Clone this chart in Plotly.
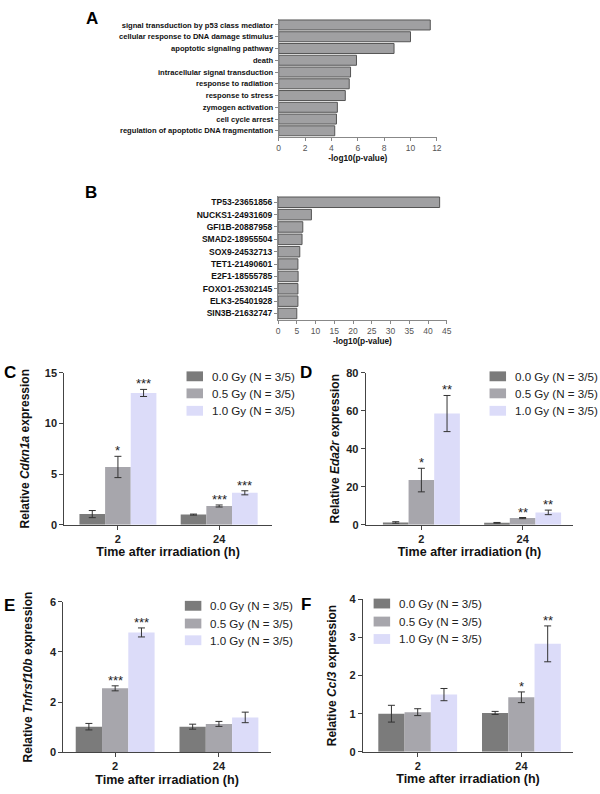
import plotly.graph_objects as go

W, H = 600, 794

# ---------------- data ----------------
go_terms = ["signal transduction by p53 class mediator",
            "cellular response to DNA damage stimulus",
            "apoptotic signaling pathway",
            "death",
            "intracellular signal transduction",
            "response to radiation",
            "response to stress",
            "zymogen activation",
            "cell cycle arrest",
            "regulation of apoptotic DNA fragmentation"]
go_logp = [11.5, 10.0, 8.75, 5.9, 5.45, 5.35, 5.05, 4.45, 4.38, 4.25]

tf_terms = ["TP53-23651856", "NUCKS1-24931609", "GFI1B-20887958", "SMAD2-18955504",
            "SOX9-24532713", "TET1-21490601", "E2F1-18555785", "FOXO1-25302145",
            "ELK3-25401928", "SIN3B-21632747"]
tf_logp = [43.1, 8.9, 6.6, 6.4, 5.8, 5.3, 5.35, 5.3, 5.3, 5.0]

times = ["2", "24"]
doses = ["0.0 Gy (N = 3/5)", "0.5 Gy (N = 3/5)", "1.0 Gy (N = 3/5)"]

cdkn1a_mean = [[1.05, 1.0], [5.7, 1.85], [13.0, 3.15]]
cdkn1a_err = [[0.35, 0.05], [1.05, 0.1], [0.35, 0.2]]
cdkn1a_sig = [["", ""], ["*", "***"], ["***", "***"]]

eda2r_mean = [[1.2, 1.0], [23.5, 3.5], [58.5, 6.5]]
eda2r_err = [[0.4, 0.2], [6.2, 0.3], [9.5, 1.2]]
eda2r_sig = [["", ""], ["*", "**"], ["**", "**"]]

tnfrsf10b_mean = [[1.02, 1.02], [2.55, 1.13], [4.78, 1.39]]
tnfrsf10b_err = [[0.13, 0.1], [0.1, 0.1], [0.18, 0.21]]
tnfrsf10b_sig = [["", ""], ["***", ""], ["***", ""]]

ccl3_mean = [[1.0, 1.02], [1.04, 1.43], [1.5, 2.83]]
ccl3_err = [[0.22, 0.04], [0.09, 0.14], [0.16, 0.47]]
ccl3_sig = [["", ""], ["", "*"], ["", "**"]]

# ---------------- styles ----------------
FONT = "Liberation Sans, Arial, sans-serif"
dose_colors = ["#7b7b7b", "#a7a6ac", "#dcdcf9"]
axis_col = "#444444"


def fx(px):
    return px / W


def fy(py):
    return 1 - py / H


fig = go.Figure()

# ---------------- A ----------------
fig.add_trace(go.Bar(x=go_logp, y=go_terms, orientation="h", width=0.85,
                     marker=dict(color="#a0a0a2", line=dict(color="#555555", width=1)),
                     showlegend=False, xaxis="x", yaxis="y"))
# ---------------- B ----------------
fig.add_trace(go.Bar(x=tf_logp, y=tf_terms, orientation="h", width=0.85,
                     marker=dict(color="#a0a0a2", line=dict(color="#555555", width=1)),
                     showlegend=False, xaxis="x2", yaxis="y2"))

panels = [
    # axis idx, means, errs, sigs, gene, x-domain px, y-domain px, y range, dtick, x range,
    # y-title standoff, legend (square left px, text left px, row centres px)
    (3, cdkn1a_mean, cdkn1a_err, cdkn1a_sig, "Cdkn1a", (63, 273), (372.3, 526.7), [0, 15], 5,
     (-0.53, 1.52), 12, (186.7, 210, [376, 393.3, 411])),
    (4, eda2r_mean, eda2r_err, eda2r_sig, "Eda2r", (368, 578), (372.3, 526.7), [0, 80], 20,
     (-0.55, 1.50), 4, (493.3, 516.7, [376, 393.3, 411])),
    (5, tnfrsf10b_mean, tnfrsf10b_err, tnfrsf10b_sig, "Tnfrsf10b", (62, 272), (605, 757.7), [0, 6], 2,
     (-0.5, 1.5), 14, (185, 208.3, [609, 627, 644])),
    (6, ccl3_mean, ccl3_err, ccl3_sig, "Ccl3", (365, 578), (602.3, 757.3), [0, 4], 1,
     (-0.53, 1.5), 10, (376, 400, [606.7, 625, 642.7])),
]

annotations = []
shapes = []
layout_axes = {}
offsets = [-0.2533, 0.0, 0.2533]

for idx, means, errs, sigs, gene, xd, yd, yr, dt, xr, sto, lg in panels:
    xa, ya = f"x{idx}", f"y{idx}"
    for k in range(3):
        fig.add_trace(go.Bar(
            x=times, y=means[k], name=doses[k],
            marker=dict(color=dose_colors[k], line=dict(width=0)),
            error_y=dict(type="data", array=errs[k], visible=True,
                         color="#333333", thickness=1, width=3.5),
            xaxis=xa, yaxis=ya, showlegend=False))
        for j in range(2):
            if sigs[k][j]:
                annotations.append(dict(
                    x=j + offsets[k], y=means[k][j] + errs[k][j], xref=xa, yref=ya,
                    text=sigs[k][j], showarrow=False, xanchor="center", yanchor="bottom",
                    yshift=-4, font=dict(family=FONT, size=13, color="#222222")))
        # legend entry (square swatch + label)
        sq_left, txt_left, rows = lg
        shapes.append(dict(type="rect", xref="paper", yref="paper",
                           x0=fx(sq_left), x1=fx(sq_left + 16.7),
                           y0=fy(rows[k] + 5), y1=fy(rows[k] - 5),
                           fillcolor=dose_colors[k], line=dict(width=0)))
        annotations.append(dict(x=fx(txt_left), y=fy(rows[k]), xref="paper", yref="paper",
                                xanchor="left", yanchor="middle", showarrow=False,
                                text=doses[k],
                                font=dict(family=FONT, size=11.6, color="#222222")))
    layout_axes[f"xaxis{idx}"] = dict(
        domain=[fx(xd[0]), fx(xd[1])], anchor=ya, type="category",
        range=list(xr), showline=True, linecolor=axis_col, linewidth=1,
        ticks="outside", ticklen=4, tickcolor=axis_col,
        tickfont=dict(family=FONT, size=11, color="#222222", weight="bold"),
        title=dict(text="<b>Time after irradiation (h)</b>", standoff=3,
                   font=dict(family=FONT, size=12.5, color="#111111")),
        showgrid=False, zeroline=False, fixedrange=True)
    layout_axes[f"yaxis{idx}"] = dict(
        domain=[fy(yd[1]), fy(yd[0])], anchor=xa, range=yr, dtick=dt,
        showline=True, linecolor=axis_col, linewidth=1,
        ticks="outside", ticklen=4, tickcolor=axis_col,
        tickfont=dict(family=FONT, size=11, color="#222222", weight="bold"),
        title=dict(text=f"<b>Relative <i>{gene}</i> expression</b>", standoff=sto,
                   font=dict(family=FONT, size=12, color="#111111")),
        showgrid=False, zeroline=False, fixedrange=True)

# panel letters
for letter, px, py in [("A", 83, 1), ("B", 82, 178), ("C", 0, 360), ("D", 299, 360),
                       ("E", 0, 597), ("F", 300, 596)]:
    annotations.append(dict(x=fx(px), y=fy(py), xref="paper", yref="paper",
                            xanchor="left", yanchor="top", showarrow=False,
                            text=f"<b>{letter}</b>",
                            font=dict(family=FONT, size=17, color="#000000")))

fig.update_layout(
    width=W, height=H, margin=dict(l=0, r=0, t=0, b=0),
    paper_bgcolor="white", plot_bgcolor="white",
    barmode="group", bargap=0.24, bargroupgap=0, showlegend=False,
    font=dict(family=FONT, color="#222222"),
    xaxis=dict(domain=[fx(280), fx(440)], anchor="y", range=[0, 12], dtick=2,
               showline=True, linecolor="#888888", linewidth=1,
               ticks="outside", ticklen=3, tickcolor="#888888",
               tickfont=dict(family=FONT, size=8.5, color="#555555"),
               title=dict(text="<b>-log10(p-value)</b>", standoff=3,
                          font=dict(family=FONT, size=8.3, color="#111111")),
               showgrid=False, zeroline=False),
    yaxis=dict(domain=[fy(132.7), fy(13.3)], anchor="x", autorange="reversed",
               showline=True, linecolor="#888888", linewidth=1,
               ticks="outside", ticklen=3, tickcolor="#888888",
               tickfont=dict(family=FONT, size=7.6, color="#111111", weight="bold"),
               showgrid=False, zeroline=False),
    xaxis2=dict(domain=[fx(279.3), fx(450)], anchor="y2", range=[0, 45], dtick=5,
                showline=True, linecolor="#888888", linewidth=1,
                ticks="outside", ticklen=3, tickcolor="#888888",
                tickfont=dict(family=FONT, size=8.5, color="#555555"),
                title=dict(text="<b>-log10(p-value)</b>", standoff=3,
                           font=dict(family=FONT, size=8.3, color="#111111")),
                showgrid=False, zeroline=False),
    yaxis2=dict(domain=[fy(318.5), fy(193)], anchor="x2", autorange="reversed",
                showline=True, linecolor="#888888", linewidth=1,
                ticks="outside", ticklen=3, tickcolor="#888888",
                tickfont=dict(family=FONT, size=8.5, color="#111111", weight="bold"),
                showgrid=False, zeroline=False),
    annotations=annotations,
    shapes=shapes,
    **layout_axes,
)

fig.write_html("out.html", config={"displayModeBar": False},
               post_script="document.body.style.margin='0';document.body.style.overflow='hidden';")
